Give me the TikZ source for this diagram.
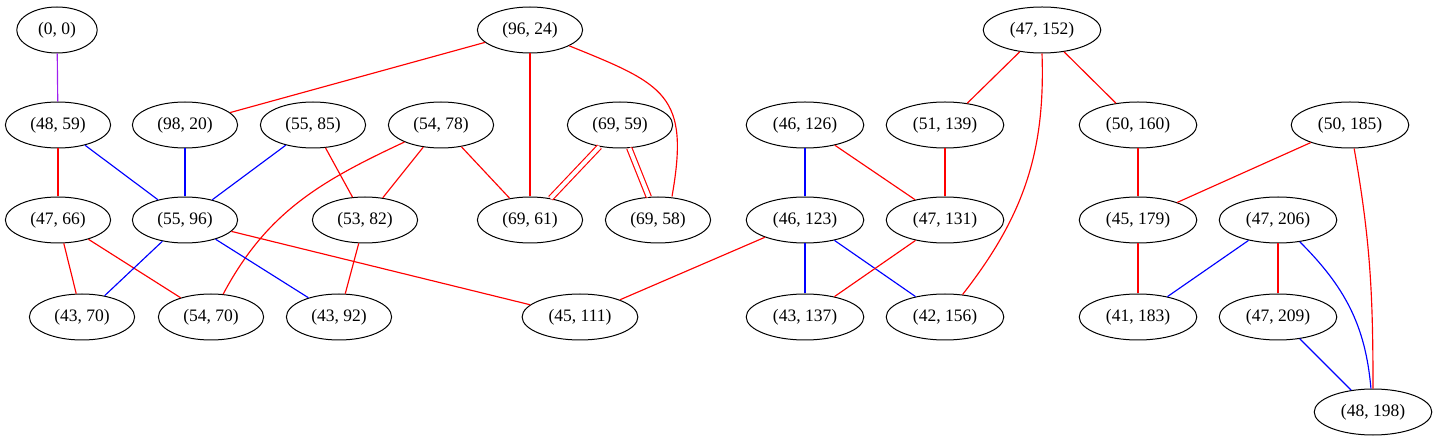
\documentclass[tikz,border=0pt]{standalone}
\usepackage{fontspec}
\setmainfont{Liberation Serif}
\usetikzlibrary{shapes.geometric}
\definecolor{gvpurple}{HTML}{A020F0}

\begin{document}
\begin{tikzpicture}[x=1pt,y=-1pt,
  pair/.style={draw, ellipse, line width=1pt, inner xsep=9.5pt, inner ysep=2pt,
    minimum height=46pt, font=\fontsize{17.5}{20}\selectfont},
  redge/.style={draw=red, line width=1.15pt},
  bedge/.style={draw=blue, line width=1.15pt},
  pedge/.style={draw=gvpurple, line width=1.15pt},
  twin/.style={double=white, double distance=4pt, line width=1.15pt}]

\useasboundingbox (0,0) rectangle (1437,443);

% top row
\node[pair] (n00) at (57,30) {(0, 0)};
\node[pair] (n9624) at (530,30) {(96, 24)};
\node[pair] (n47152) at (1042,30) {(47, 152)};

% second row
\node[pair] (n4859) at (58,125) {(48, 59)};
\node[pair] (n9820) at (185,125) {(98, 20)};
\node[pair] (n5585) at (313,125) {(55, 85)};
\node[pair] (n5478) at (441,125) {(54, 78)};
\node[pair] (n6959) at (620,125) {(69, 59)};
\node[pair] (n46126) at (805,125) {(46, 126)};
\node[pair] (n51139) at (945,125) {(51, 139)};
\node[pair] (n50160) at (1138,125) {(50, 160)};
\node[pair] (n50185) at (1350,125) {(50, 185)};

% third row
\node[pair] (n4766) at (58,220) {(47, 66)};
\node[pair] (n5596) at (185,220) {(55, 96)};
\node[pair] (n5382) at (365,220) {(53, 82)};
\node[pair] (n6961) at (530,220) {(69, 61)};
\node[pair] (n6958) at (658,220) {(69, 58)};
\node[pair] (n46123) at (805,220) {(46, 123)};
\node[pair] (n47131) at (945,220) {(47, 131)};
\node[pair] (n45179) at (1138,220) {(45, 179)};
\node[pair] (n47206) at (1278,220) {(47, 206)};

% fourth row
\node[pair] (n4370) at (82,317) {(43, 70)};
\node[pair] (n5470) at (211,317) {(54, 70)};
\node[pair] (n4392) at (339,317) {(43, 92)};
\node[pair] (n45111) at (580,317) {(45, 111)};
\node[pair] (n43137) at (805,317) {(43, 137)};
\node[pair] (n42156) at (945,317) {(42, 156)};
\node[pair] (n41183) at (1138,317) {(41, 183)};
\node[pair] (n47209) at (1278,317) {(47, 209)};

\node[pair] (n48198) at (1373,412) {(48, 198)};

% edges
\draw[pedge] (n00) -- (n4859);
\draw[redge] (n9624) -- (n9820);
\draw[redge] (n9624) -- (n6961);
\draw[redge] (n9624) to[out=-22, in=80, looseness=1.45] ([xshift=14pt]n6958.north);
\draw[redge] (n47152) -- (n51139);
\draw[redge] (n47152) -- (n50160);
\draw[redge] (n47152.south) to[out=-88, in=52] (n42156);
\draw[redge] (n4859) -- (n4766);
\draw[bedge] (n4859) -- (n5596);
\draw[bedge] (n9820) -- (n5596);
\draw[bedge] (n5585) -- (n5596);
\draw[redge] (n5585) -- (n5382);
\draw[redge] (n5478) -- (n5382);
\draw[redge] (n5478) -- (n6961);
\draw[redge] (n5478) to[out=205, in=62] (n5470);
\draw[redge, twin] (n6959) -- (n6961);
\draw[redge, twin] (n6959) -- (n6958);
\draw[bedge] (n46126) -- (n46123);
\draw[redge] (n46126) -- (n47131);
\draw[redge] (n51139) -- (n47131);
\draw[redge] (n50160) -- (n45179);
\draw[redge] (n50185) -- (n45179);
\draw[redge] (n50185) to[out=-80, in=90] (n48198);
\draw[redge] (n4766) -- (n4370);
\draw[redge] (n4766) -- (n5470);
\draw[bedge] (n5596) -- (n4370);
\draw[bedge] (n5596) -- (n4392);
\draw[redge] (n5596) -- (n45111);
\draw[redge] (n5382) -- (n4392);
\draw[redge] (n46123) -- (n45111);
\draw[bedge] (n46123) -- (n43137);
\draw[bedge] (n46123) -- (n42156);
\draw[redge] (n47131) -- (n43137);
\draw[redge] (n45179) -- (n41183);
\draw[bedge] (n47206) -- (n41183);
\draw[redge] (n47206) -- (n47209);
\draw[bedge] (n47206) to[out=-45, in=95] (n48198);
\draw[bedge] (n47209) -- (n48198);

\end{tikzpicture}
\end{document}
